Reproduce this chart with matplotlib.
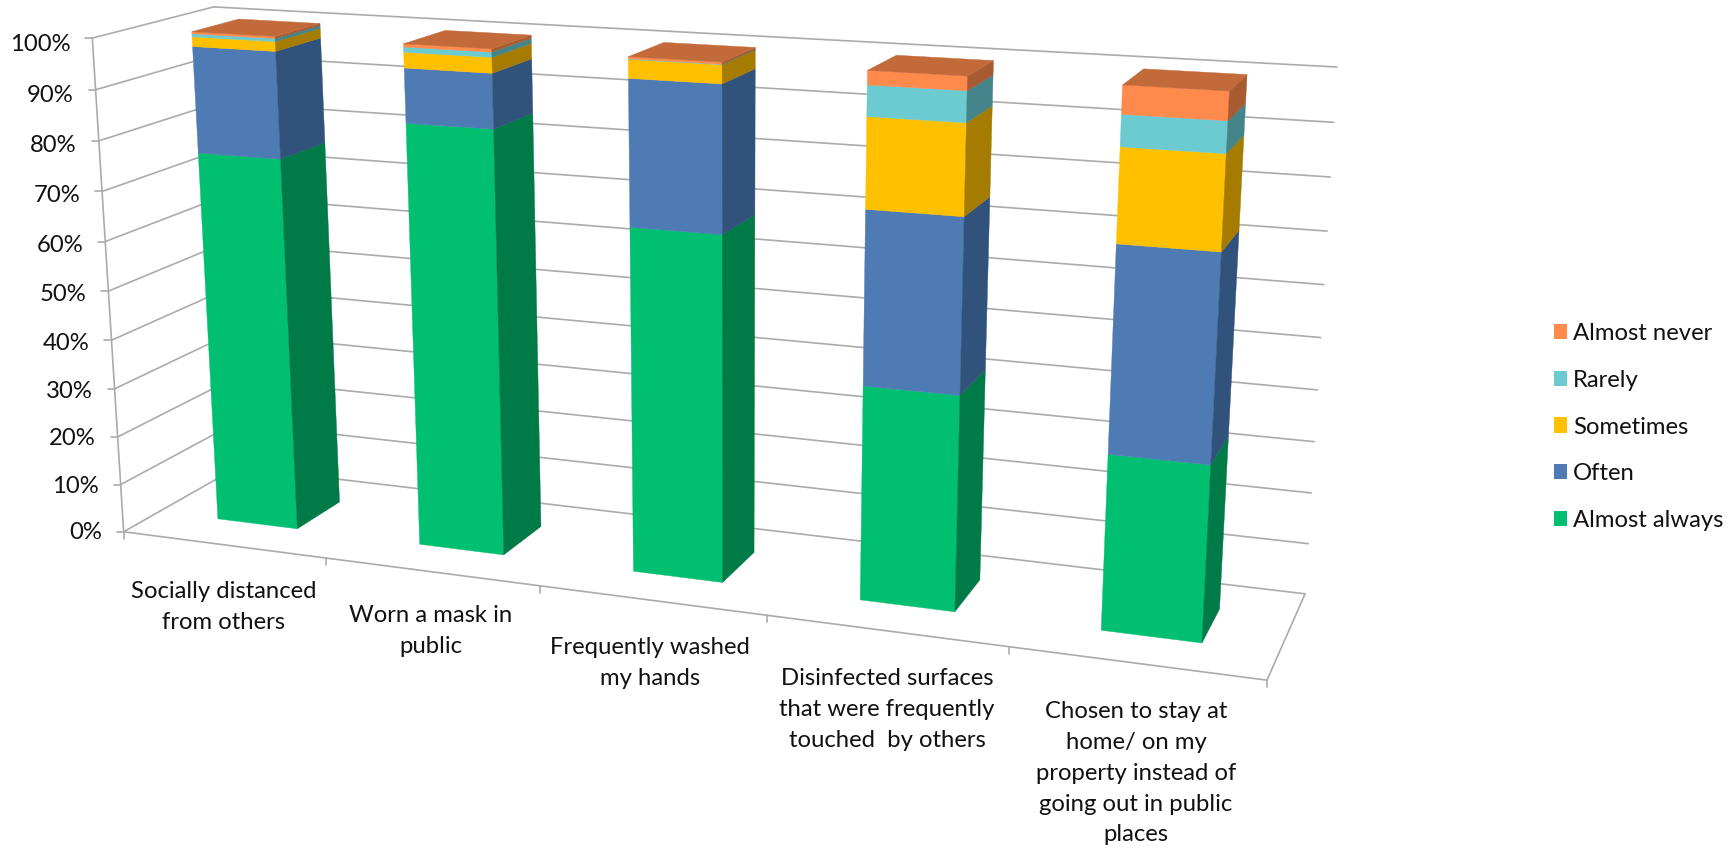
import numpy as np
import matplotlib
matplotlib.use("Agg")
import matplotlib.pyplot as plt
from matplotlib.patches import Polygon, Patch

# ---------- data ----------
categories = ["Socially distanced\nfrom others",
              "Worn a mask in\npublic",
              "Frequently washed\nmy hands",
              "Disinfected surfaces\nthat were frequently\ntouched  by others",
              "Chosen to stay at\nhome/ on my\nproperty instead of\ngoing out in public\nplaces"]
series_names = ["Almost always", "Often", "Sometimes", "Rarely", "Almost never"]
almost_always = [0.760, 0.848, 0.680, 0.417, 0.335]
often         = [0.211, 0.106, 0.280, 0.331, 0.385]
sometimes     = [0.019, 0.030, 0.035, 0.169, 0.172]
rarely        = [0.006, 0.010, 0.001, 0.057, 0.057]
almost_never  = [0.004, 0.006, 0.004, 0.026, 0.051]
y_ticks = [0, 10, 20, 30, 40, 50, 60, 70, 80, 90, 100]

# ---------- style ----------
front_cols = ["#00BF70", "#4F7BB5", "#FFC000", "#6CCBD0", "#FF8A4C"]
side_cols  = ["#007B48", "#31527A", "#A67C00", "#458488", "#A85A30"]
top_col = "#C26A3A"
grid_col = "#ABABAB"
plt.rcParams['font.family'] = ['Lato', 'DejaVu Sans']
FS = 17.2

# ---------- perspective camera fitted to the chart's box corners ----------
world = np.array([(0,0,0),(5,0,0),(5,1,0),(0,1,0),(0,0,1),(0,1,1),(5,1,1)], float)
image = np.array([(123,532),(1267,680),(1305,594),(238,467),(93,38),(213,7),(1337,67)], float)
A, b = [], []
for (X,Y,Z),(u,v) in zip(world,image):
    A.append([X,Y,Z,1,0,0,0,0,-u*X,-u*Y,-u*Z]); b.append(u)
    A.append([0,0,0,0,X,Y,Z,1,-v*X,-v*Y,-v*Z]); b.append(v)
P = np.append(np.linalg.lstsq(np.array(A),np.array(b),rcond=None)[0],1).reshape(3,4)

def proj(x,d,z):
    h = P @ np.array([x,d,z,1.0])
    return h[0]/h[2], h[1]/h[2]

fig = plt.figure(figsize=(17.29,8.48), dpi=100)
ax = fig.add_axes([0,0,1,1])
ax.set_xlim(0,1729); ax.set_ylim(848,0); ax.axis('off')

def line(a,b,z=1,lw=1.2):
    ax.plot([a[0],b[0]],[a[1],b[1]],color=grid_col,lw=lw,zorder=z,solid_capstyle='round')

# gridlines on the two walls
for t in y_ticks:
    z = t/100
    line(proj(0,0,z),proj(0,1,z)); line(proj(0,1,z),proj(5,1,z))
    p = proj(0,0,z)
    line((p[0]-7,p[1]),p)
    ax.text(p[0]-22,p[1]+1+5*z,f"{t}%",ha='right',va='center',fontsize=FS,color='#111111')
# axis edges
line(proj(0,0,0),proj(0,0,1))
line(proj(0,0,0),proj(5,0,0))
line(proj(5,0,0),proj(5,1,0))
for i in range(6):
    p = proj(i,0,0)
    line(p,(p[0],p[1]+7))

# bars
GAP = 0.3
series = [almost_always, often, sometimes, rarely, almost_never]
for i in range(len(categories)):
    x0,x1 = i+GAP, i+1-GAP
    d0,d1 = GAP, 1-GAP
    base = 0.0
    for s,vals in enumerate(series):
        top = base+vals[i]
        ax.add_patch(Polygon([proj(x0,d0,base),proj(x1,d0,base),proj(x1,d0,top),proj(x0,d0,top)],
                             fc=front_cols[s],ec=front_cols[s],lw=0.3,zorder=3))
        ax.add_patch(Polygon([proj(x1,d0,base),proj(x1,d1,base),proj(x1,d1,top),proj(x1,d0,top)],
                             fc=side_cols[s],ec=side_cols[s],lw=0.3,zorder=3))
        base = top
    ax.add_patch(Polygon([proj(x0,d0,base),proj(x1,d0,base),proj(x1,d1,base),proj(x0,d1,base)],
                         fc=top_col,ec=top_col,lw=0.3,zorder=4))

# category labels
label_xy = [(224,581),(431,605),(650,637),(887,668),(1136,701)]
for c,(lx,ly) in zip(categories,label_xy):
    ax.text(lx,ly,c,ha='center',va='top',fontsize=FS,linespacing=1.58,color='#111111')

# legend
handles = [Patch(fc=col,ec='none') for col in front_cols[::-1]]
ax.legend(handles,series_names[::-1],loc='center left',bbox_to_anchor=(1532.5/1729,1-427/848),
          bbox_transform=fig.transFigure,frameon=False,fontsize=FS,handlelength=0.54,
          handleheight=0.6,labelspacing=1.08,handletextpad=0.25,labelcolor='#111111')

fig.savefig("out.png",dpi=100)
